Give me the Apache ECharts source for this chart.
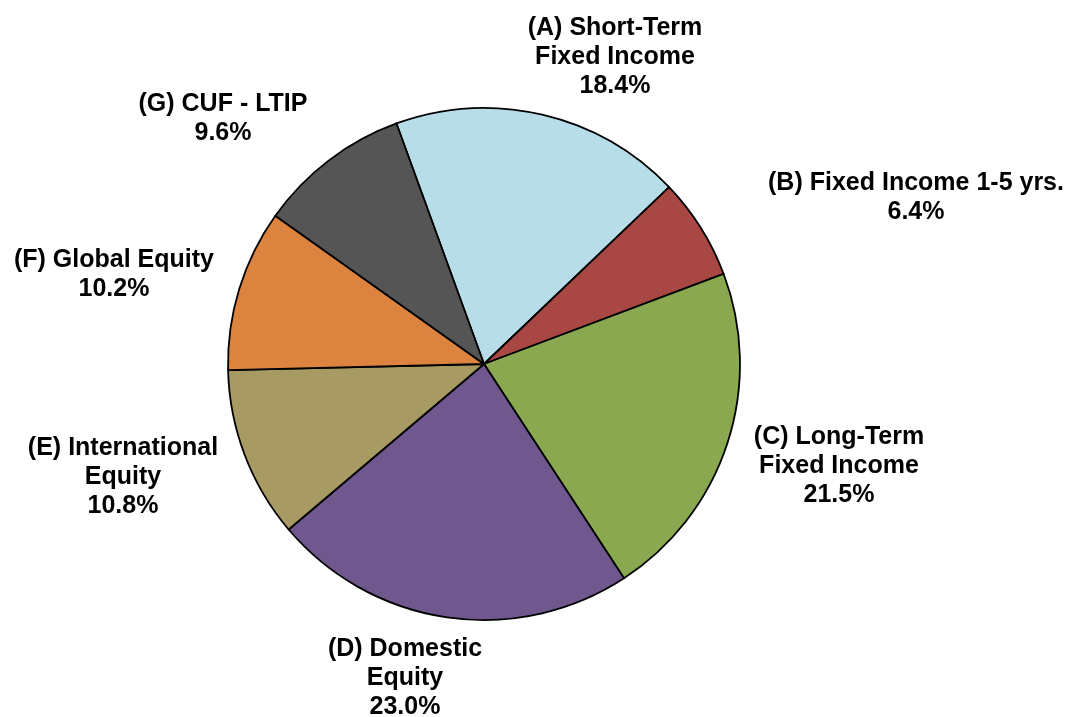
<!DOCTYPE html>
<html>
<head>
<meta charset="utf-8">
<script src="https://cdn.jsdelivr.net/npm/echarts@6/dist/echarts.min.js"></script>
<style>
  html, body { margin: 0; padding: 0; background: #fff; }
  #chart { width: 1071px; height: 717px; }
</style>
</head>
<body>
<div id="chart"></div>
<script>
// Datos del gráfico
const categories = [
    '(A) Short-Term\nFixed Income',
    '(B) Fixed Income 1-5 yrs.',
    '(C) Long-Term\nFixed Income',
    '(D) Domestic\nEquity',
    '(E) International\nEquity',
    '(F) Global Equity',
    '(G) CUF - LTIP'
];
const shares = [18.4, 6.4, 21.5, 23.0, 10.8, 10.2, 9.6];
const colors = ['#b7dde8', '#a84744', '#8aa84f', '#70588f', '#a89a63', '#dc843f', '#555555'];

// Posición de las etiquetas (centro del bloque de texto)
const labelCenters = [
    [615, 57], [916, 198], [839, 466], [405, 678], [123, 477], [114, 275], [223, 119]
];

const chart = echarts.init(document.getElementById('chart'));

chart.setOption({
    animation: false,
    series: [
        {
            type: 'pie',
            center: [484, 364],
            radius: 256,
            startAngle: 110,
            clockwise: true,
            avoidLabelOverlap: false,
            data: categories.map((name, i) => ({
                name: name,
                value: shares[i],
                itemStyle: { color: colors[i] }
            })),
            itemStyle: {
                borderColor: '#000',
                borderWidth: 1.8
            },
            label: {
                show: true,
                position: 'outside',
                formatter: p => p.name + '\n' + p.value.toFixed(1) + '%',
                fontFamily: "'Liberation Sans', Arial, sans-serif",
                fontWeight: 'bold',
                fontSize: 25,
                lineHeight: 29,
                color: '#000',
                align: 'center'
            },
            labelLine: { show: false },
            labelLayout: params => ({
                x: labelCenters[params.dataIndex][0],
                y: labelCenters[params.dataIndex][1],
                align: 'center',
                verticalAlign: 'middle'
            }),
            emphasis: { disabled: true }
        }
    ]
});
</script>
</body>
</html>
